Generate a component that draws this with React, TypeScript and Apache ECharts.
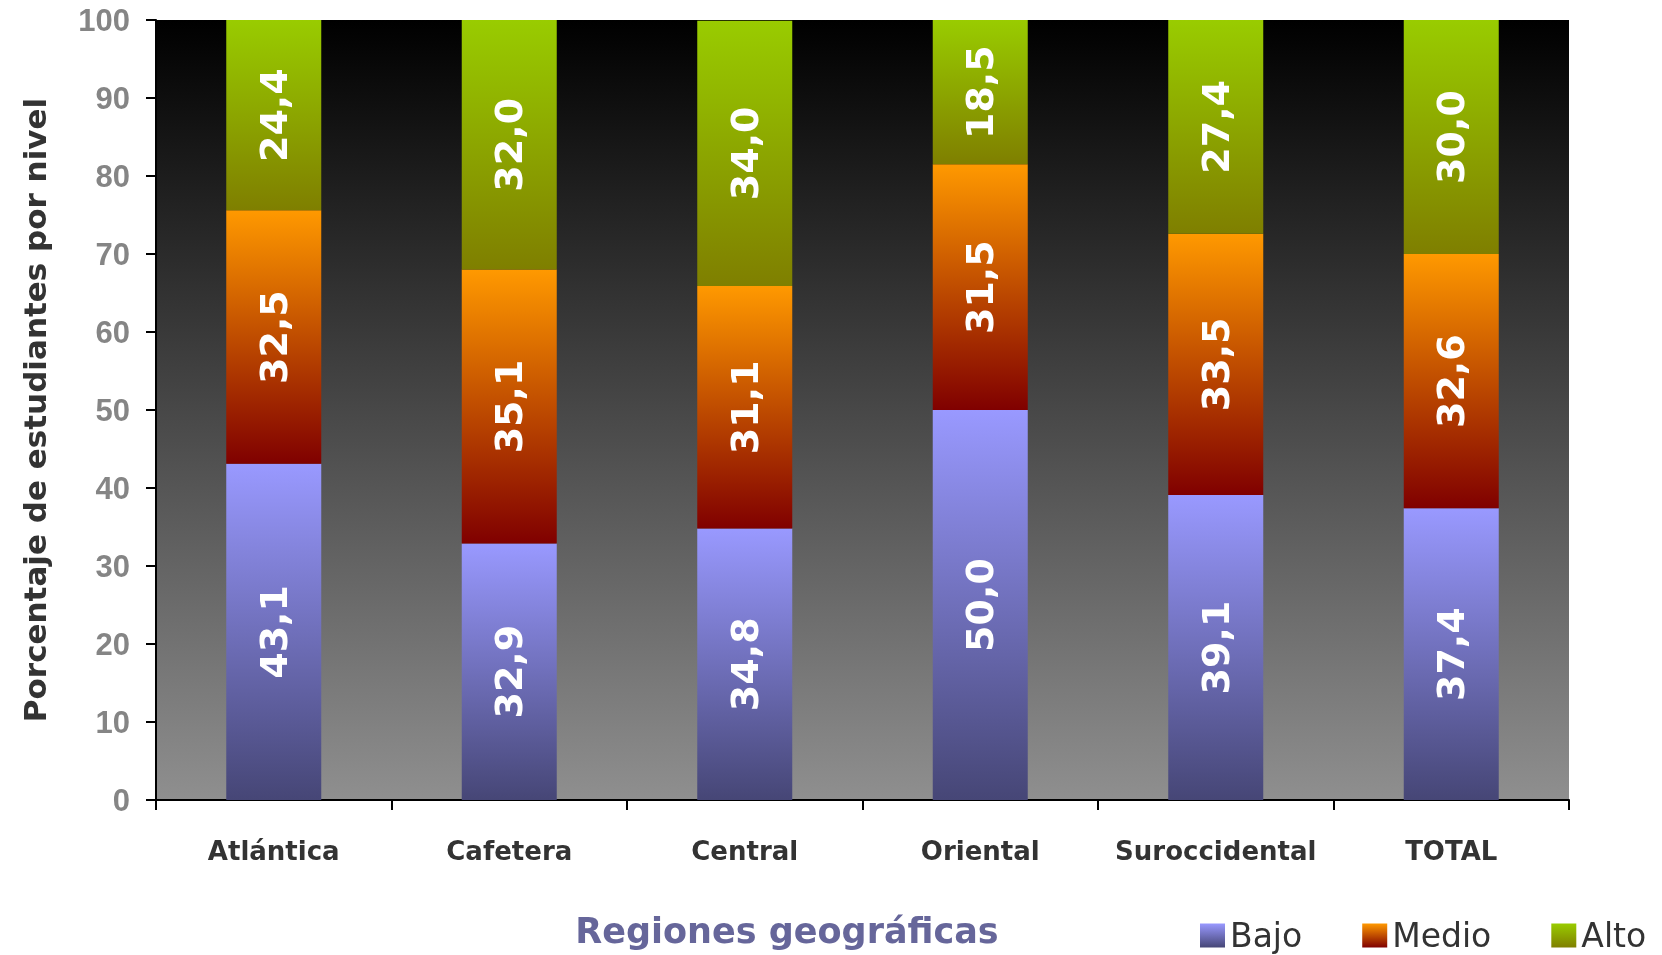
import React, { useEffect, useRef } from "react";
import * as echarts from "echarts";

const categories = ["Atlántica", "Cafetera", "Central", "Oriental", "Suroccidental", "TOTAL"];
const bajo = [43.1, 32.9, 34.8, 50.0, 39.1, 37.4];
const medio = [32.5, 35.1, 31.1, 31.5, 33.5, 32.6];
const alto = [24.4, 32.0, 34.0, 18.5, 27.4, 30.0];
const seriesNames = ["Bajo", "Medio", "Alto"];
const yMin = 0;
const yMax = 100;
const yStep = 10;

const grad = (top: string, bottom: string) =>
  new echarts.graphic.LinearGradient(0, 0, 0, 1, [
    { offset: 0, color: top },
    { offset: 1, color: bottom },
  ]);

const fmt = (v: number) => v.toFixed(1).replace(".", ",");

export default function App() {
  const ref = useRef<HTMLDivElement>(null);
  useEffect(() => {
    if (!ref.current) return;
    const chart = echarts.init(ref.current, null, { renderer: "svg" });
    const label = {
      show: true,
      position: "inside",
      rotate: 90,
      color: "#ffffff",
      fontSize: 38,
      fontFamily: "DejaVu Sans",
      fontWeight: "bold",
      formatter: (p: any) => fmt(p.value),
    };
    const colors = [
      grad("#9999ff", "#464676"),
      grad("#ff9900", "#800000"),
      grad("#99cc00", "#7f7f00"),
    ];
    const data = [bajo, medio, alto];
    chart.setOption({
      animation: false,
      grid: {
        left: 156,
        right: 93,
        top: 20,
        bottom: 155,
        show: true,
        borderWidth: 0,
        backgroundColor: grad("#000000", "#8f8f8f"),
      },
      legend: {
        left: 1195,
        top: 914,
        itemWidth: 25,
        itemHeight: 24,
        itemGap: 60,
        icon: "rect",
        data: seriesNames,
        textStyle: { fontFamily: "DejaVu Sans", fontSize: 33, color: "#333333", padding: [0, 0, 0, 0] },
      },
      xAxis: {
        type: "category",
        data: categories,
        axisLine: { lineStyle: { color: "#000", width: 2 } },
        axisTick: { show: true, length: 10, lineStyle: { color: "#000", width: 2 } },
        axisLabel: {
          color: "#333333",
          fontSize: 26,
          fontWeight: "bold",
          fontFamily: "DejaVu Sans",
          margin: 38,
          interval: 0,
        },
      },
      yAxis: {
        type: "value",
        min: yMin,
        max: yMax,
        interval: yStep,
        name: "Porcentaje de estudiantes por nivel",
        nameLocation: "middle",
        nameGap: 106,
        nameTextStyle: {
          color: "#333333",
          fontSize: 31,
          fontWeight: "bold",
          fontFamily: "DejaVu Sans",
        },
        splitLine: { show: false },
        axisLine: { show: true, lineStyle: { color: "#000", width: 2 } },
        axisTick: { show: true, length: 10, lineStyle: { color: "#000", width: 2 } },
        axisLabel: {
          color: "#858585",
          fontSize: 31,
          fontWeight: "bold",
          fontFamily: "Liberation Sans",
          margin: 26,
        },
      },
      graphic: [
        {
          type: "text",
          x: 787,
          y: 931,
          style: {
            text: "Regiones geográficas",
            fill: "#66669a",
            fontSize: 35,
            fontWeight: "bold",
            fontFamily: "DejaVu Sans",
            textAlign: "center",
            textVerticalAlign: "middle",
          },
        },
      ],
      series: seriesNames.map((name, i) => ({
        name,
        type: "bar",
        stack: "total",
        barWidth: 95,
        data: data[i],
        itemStyle: { color: colors[i] },
        label,
      })),
    });
    return () => chart.dispose();
  }, []);
  return <div ref={ref} style={{ position: "fixed", left: 0, top: 0, width: 1662, height: 955 }} />;
}
